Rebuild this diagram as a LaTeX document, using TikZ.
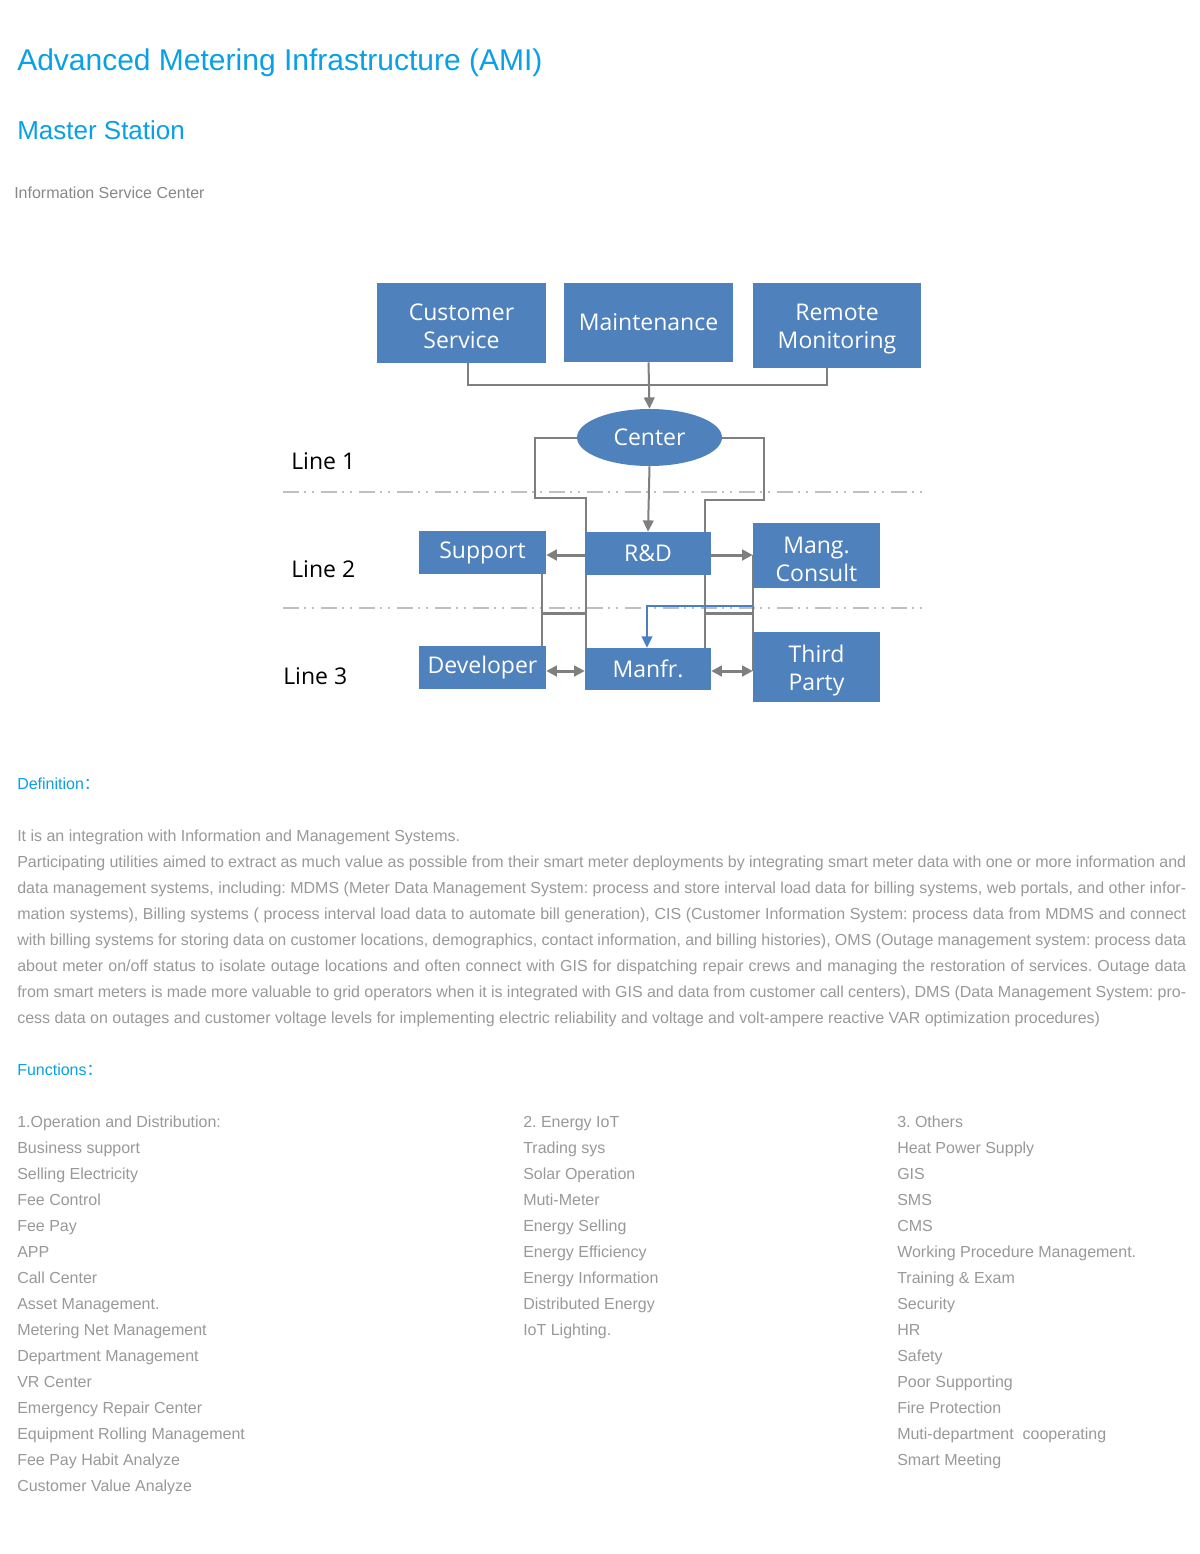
\documentclass[tikz,border=0pt]{standalone}
\usepackage{fontspec}
\setmainfont{Liberation Sans}
\newfontfamily\diagfont{Open Sans}
\newfontfamily\cjk{Noto Sans CJK SC}
\usetikzlibrary{shapes.geometric,arrows.meta,backgrounds}
\frenchspacing

\definecolor{amiblue}{HTML}{0AA0E6}
\definecolor{boxblue}{HTML}{4F81BD}
\definecolor{linkgray}{HTML}{7F7F7F}
\definecolor{sepgray}{HTML}{BFBFBF}
\definecolor{txtgray}{HTML}{999999}
\definecolor{subgray}{HTML}{888888}
\definecolor{bluelink}{HTML}{4A7EC5}

\newcommand\jline[1]{\makebox[876.75pt][s]{#1}}

\tikzset{
  head/.style={anchor=base west, inner sep=0pt, text=amiblue},
  txt/.style={anchor=base west, inner sep=0pt, text=txtgray, font=\fontsize{12}{14}\selectfont},
  box/.style={fill=boxblue, text=white, inner sep=0pt, align=center,
    font=\diagfont\fontsize{17.25}{21}\selectfont},
  two/.style={text height=39pt},
  oval/.style={box, ellipse},
  lbl/.style={anchor=west, inner sep=0pt, font=\diagfont\fontsize{17.25}{21}\selectfont},
  link/.style={draw=linkgray, line width=1.5pt},
  fat/.style={draw=linkgray, line width=2.25pt},
  arr/.style={link, -{Triangle[length=8.5pt,width=8pt]}},
  fatarr/.style={fat, -{Triangle[length=8pt,width=8pt]}},
  dbl/.style={fat, {Triangle[length=8pt,width=8pt]}-{Triangle[length=8pt,width=8pt]}},
  bluearr/.style={draw=bluelink, line width=1.5pt, -{Triangle[length=8.5pt,width=8pt]}},
  sepline/.style={draw=sepgray, line width=1.5pt,
    dash pattern=on 12pt off 4pt on 1.5pt off 4pt on 1.5pt off 5.5pt}
}

\begin{document}
\begin{tikzpicture}[x=0.75pt,y=-0.75pt]
\useasboundingbox (0,0) rectangle (1200,1554);

% headings
\node[head, font=\fontsize{22.5}{27}\selectfont] (ttl) at (17,70) {Advanced Metering Infrastructure (AMI)};
\node[head, font=\fontsize{19.5}{23}\selectfont] (ms) at (17,139) {Master Station};
\node[txt, text=subgray] (isc) at (14,198) {Information Service Center};

% diagram boxes
\node[box, two, minimum width=126.75pt, minimum height=60pt] (cs) at (461.5,323) {Customer\\Service};
\node[box, minimum width=126.75pt, minimum height=59.25pt] (mt) at (648.5,322.5) {Maintenance};
\node[box, two, minimum width=126pt, minimum height=63.75pt] (rm) at (837,325.5) {Remote\\Monitoring};
\node[oval, minimum width=108.75pt, minimum height=42.75pt] (ct) at (649.5,437.5) {Center};
\node[box, minimum width=95.25pt, minimum height=32.25pt] (sp) at (482.5,552.5) {Support};
\node[box, minimum width=94.5pt, minimum height=32.25pt] (rd) at (648,553.5) {R\&D};
\node[box, two, minimum width=95.25pt, minimum height=48.75pt] (mc) at (816.5,555.5) {Mang.\\Consult};
\node[box, minimum width=95.25pt, minimum height=32.25pt] (dv) at (482.5,667.5) {Developer};
\node[box, minimum width=94.5pt, minimum height=31.5pt] (mf) at (648,669) {Manfr.};
\node[box, two, minimum width=95.25pt, minimum height=52.5pt] (tp) at (816.5,667) {Third\\Party};

\node[lbl] (l1) at (291,461) {Line 1};
\node[lbl] (l2) at (291,569) {Line 2};
\node[lbl] (l3) at (283,676) {Line 3};

\coordinate (busL) at (468,385); \coordinate (busR) at (827,385);
\coordinate (lA) at (535,498); \coordinate (lB) at (586,498); \coordinate (lC) at (542,555);
\coordinate (rA) at (764,500); \coordinate (rB) at (705,500);
\coordinate (lvl) at (0,671); \coordinate (mid) at (0,613); \coordinate (blu) at (0,606);

\begin{scope}[on background layer]
\fill[white] (0,0) rectangle (1200,1554);
\draw[sepline] (283,492) -- (923,492);
\draw[sepline] (283,608) -- (923,608);
% top bus into center
\draw[link] (cs.south -| busL) -- (busL) -- (busR) -- (rm.south -| busR);
\draw[arr] (mt.south) -- (ct.north);
\draw[arr] (ct.south) -- (rd.north);
% left loop
\draw[link] (ct.west) -| (lA) -- (lB) -- (lB |- lvl);
\draw[link] (lC) -- (lC |- lvl);
\draw[fat] (lC |- mid) -- (lB |- mid);
\draw[fatarr] (lB |- lC) -- (lC -| sp.east);
\draw[dbl] (dv.east |- lvl) -- (mf.west |- lvl);
% right loop
\draw[link] (ct.east) -| (rA) -- (rB) -- (rB |- lvl);
\draw[link] (mc.west |- lC) -- (mc.west |- lvl);
\draw[fat] (rB |- mid) -- (mc.west |- mid);
\draw[fatarr] (rB |- lC) -- (mc.west |- lC);
\draw[dbl] (mf.east |- lvl) -- (tp.west |- lvl);
\draw[bluearr] (mc.west |- blu) -| ([xshift=-0.75pt]mf.north);
\end{scope}

% definition
\node[head, font=\fontsize{12}{14}\selectfont] (dfn) at (17,789) {Definition{\cjk ：}};
\node[txt] (d1) at (17,841) {It is an integration with Information and Management Systems.};
\node[txt] (d2) at (17,867) {\jline{Participating utilities aimed to extract as much value as possible from their smart meter deployments by integrating smart meter data with one or more information and}};
\node[txt] (d3) at (17,893) {\jline{data management systems, including: MDMS (Meter Data Management System: process and store interval load data for billing systems, web portals, and other infor-}};
\node[txt] (d4) at (17,919) {\jline{mation systems), Billing systems ( process interval load data to automate bill generation), CIS (Customer Information System: process data from MDMS and connect}};
\node[txt] (d5) at (17,945) {\jline{with billing systems for storing data on customer locations, demographics, contact information, and billing histories), OMS (Outage management system: process data}};
\node[txt] (d6) at (17,971) {\jline{about meter on/off status to isolate outage locations and often connect with GIS for dispatching repair crews and managing the restoration of services. Outage data}};
\node[txt] (d7) at (17,997) {\jline{from smart meters is made more valuable to grid operators when it is integrated with GIS and data from customer call centers), DMS (Data Management System: pro-}};
\node[txt] (d8) at (17,1023) {cess data on outages and customer voltage levels for implementing electric reliability and voltage and volt-ampere reactive VAR optimization procedures)};

% functions
\node[head, font=\fontsize{12}{14}\selectfont] (fn) at (17,1075) {Functions{\cjk ：}};
\foreach \t [count=\i from 0] in {1.Operation and Distribution:, Business support, Selling Electricity, Fee Control, Fee Pay, APP, Call Center, Asset Management., Metering Net Management, Department Management, VR Center, Emergency Repair Center, Equipment Rolling Management, Fee Pay Habit Analyze, Customer Value Analyze}
  \node[txt] (fa\i) at (17,{1127+26*\i}) {\t};
\foreach \t [count=\i from 0] in {2. Energy IoT, Trading sys, Solar Operation, Muti-Meter, Energy Selling, Energy Efficiency, Energy Information, Distributed Energy, IoT Lighting.}
  \node[txt] (fb\i) at (523,{1127+26*\i}) {\t};
\foreach \t [count=\i from 0] in {3. Others, Heat Power Supply, GIS, SMS, CMS, Working Procedure Management., Training \& Exam, Security, HR, Safety, Poor Supporting, Fire Protection, Muti-department~ cooperating, Smart Meeting}
  \node[txt] (fc\i) at (897,{1127+26*\i}) {\t};
\end{tikzpicture}
\end{document}
